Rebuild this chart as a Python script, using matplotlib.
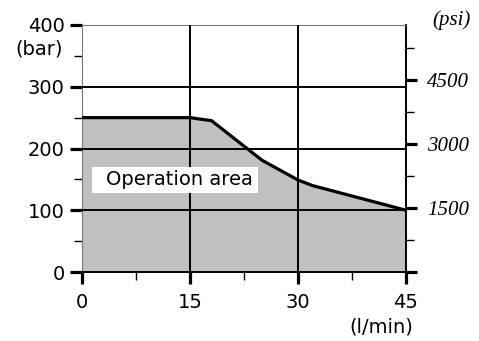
import numpy as np
import matplotlib
matplotlib.use('Agg')
import matplotlib.pyplot as plt
from matplotlib.ticker import FixedLocator
from matplotlib.patches import Rectangle

# Curva de operación (caudal l/min, presión bar)
caudal = [0, 15, 18, 25, 30, 32, 45]
presion = [250, 250, 245, 181, 149, 140, 100]

x_ticks = [0, 15, 30, 45]
x_minor = [7.5, 22.5, 37.5]
y_ticks = [0, 100, 200, 300, 400]
y_minor = [50, 150, 250, 350]
psi_ticks = [0, 1500, 3000, 4500]
psi_labels = ['', '1500', '3000', '4500']
psi_minor = [750, 2250, 3750, 5250]
BAR_A_PSI = 14.5038

fig = plt.figure(figsize=(4.79, 3.41), dpi=100)
ax = fig.add_axes([82/479, 1-272/341, (406-82)/479, (272-25)/341])

ax.fill_between(caudal, presion, 0, color='#c0c0c0', zorder=1)
ax.plot(caudal, presion, color='black', lw=2.3, zorder=4, solid_joinstyle='round')

for xv in [15, 30]:
    ax.axvline(xv, color='black', lw=1.4, zorder=3)
for yv in [100, 200, 300]:
    ax.axhline(yv, color='black', lw=1.4, zorder=3)

ax.set_xlim(0, 45)
ax.set_ylim(0, 400)
ax.set_xticks(x_ticks)
ax.xaxis.set_minor_locator(FixedLocator(x_minor))
ax.set_yticks(y_ticks)
ax.yaxis.set_minor_locator(FixedLocator(y_minor))
ax.tick_params(axis='both', which='major', length=8.5, width=2.3, labelsize=14, pad=4)
ax.tick_params(axis='x', which='major', pad=6.5)
ax.tick_params(axis='both', which='minor', length=6, width=1)
for s in ['left', 'top']:
    ax.spines[s].set_color('#777777')
    ax.spines[s].set_linewidth(0.8)
ax.spines['bottom'].set_linewidth(1.4)
ax.spines['right'].set_linewidth(1.4)

# Recuadro blanco del área de operación
ax.add_patch(Rectangle((1.39, 128), 23.05, 42, facecolor='white', edgecolor='none', zorder=5))
ax.text(3.3, 149, 'Operation area', fontsize=14, va='center', ha='left', zorder=6)

ax2 = ax.twinx()
ax2.set_ylim(0, 400*BAR_A_PSI)
ax2.set_yticks(psi_ticks)
ax2.set_yticklabels(psi_labels, family='Liberation Serif', style='italic', fontsize=15)
ax2.yaxis.set_minor_locator(FixedLocator(psi_minor))
ax2.tick_params(axis='y', which='major', length=8, width=2.3, pad=7)
ax2.tick_params(axis='y', which='minor', length=6, width=1)
for s in ax2.spines.values():
    s.set_visible(False)

fig.text(63/479, 1-49/341, '(bar)', fontsize=14, ha='right', va='center')
fig.text(471/479, 1-20/341, '(psi)', fontsize=15, ha='right', va='center',
         family='Liberation Serif', style='italic')
fig.text(413/479, 1-327/341, '(l/min)', fontsize=14, ha='right', va='center')

fig.savefig('out.png', dpi=100)
